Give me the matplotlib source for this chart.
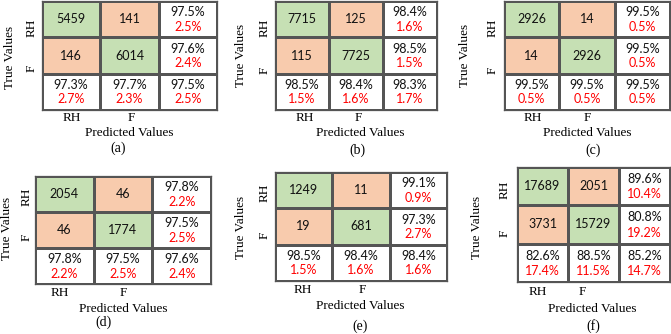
import matplotlib.pyplot as plt
import numpy as np
from matplotlib.colors import ListedColormap

# confusion counts per panel, and the accuracy / error text
# order of acc/err: row RH, row F, col RH, col F, overall
counts_a = [[5459, 141], [146, 6014]]
acc_a = [97.5, 97.6, 97.3, 97.7, 97.5]
err_a = [2.5, 2.4, 2.7, 2.3, 2.5]

counts_b = [[7715, 125], [115, 7725]]
acc_b = [98.4, 98.5, 98.5, 98.4, 98.3]
err_b = [1.6, 1.5, 1.5, 1.6, 1.7]

counts_c = [[2926, 14], [14, 2926]]
acc_c = [99.5, 99.5, 99.5, 99.5, 99.5]
err_c = [0.5, 0.5, 0.5, 0.5, 0.5]

counts_d = [[2054, 46], [46, 1774]]
acc_d = [97.8, 97.5, 97.8, 97.5, 97.6]
err_d = [2.2, 2.5, 2.2, 2.5, 2.4]

counts_e = [[1249, 11], [19, 681]]
acc_e = [99.1, 97.3, 98.5, 98.4, 98.4]
err_e = [0.9, 2.7, 1.5, 1.6, 1.6]

counts_f = [[17689, 2051], [3731, 15729]]
acc_f = [89.6, 80.8, 82.6, 88.5, 85.2]
err_f = [10.4, 19.2, 17.4, 11.5, 14.7]

class_labels = ["RH", "F"]
panel_tags = ["(a)", "(b)", "(c)", "(d)", "(e)", "(f)"]

W, H = 671, 334
GREEN = "#c6e0b4"
ORANGE = "#f8cbad"
LINE = "#555555"
SERIF = "Liberation Serif"
SANS = "Lato"

# layout in pixels: grid box (left, top, right, bottom) and label anchors
layouts = [
    dict(grid=(42, 1, 217, 110), tv=(10, 57), yl=(32, 28, 68), xl=(72, 131, 118), pv=(129, 133), tag=(118, 148)),
    dict(grid=(275, 1, 437, 110), tv=(241, 55), yl=(265, 28, 70), xl=(305, 358, 118), pv=(360, 133), tag=(357, 150)),
    dict(grid=(504, 1, 670, 110), tv=(465, 55), yl=(493, 28, 70), xl=(533, 587, 118), pv=(587, 133), tag=(593, 150)),
    dict(grid=(35, 176, 211, 284), tv=(7, 228), yl=(27, 197, 237), xl=(60, 123, 293), pv=(123, 309), tag=(103, 322)),
    dict(grid=(275, 172, 447, 281), tv=(241, 227), yl=(265, 193, 235), xl=(303, 362, 290), pv=(360, 306), tag=(360, 326)),
    dict(grid=(517, 167, 670, 282), tv=(477, 227), yl=(505, 190, 233), xl=(538, 582, 292), pv=(592, 309), tag=(593, 326)),
]


def fx(x):
    return x / W


def fy(y):
    return 1 - y / H


def draw_panel(fig, counts, acc, err, lay, tag):
    l, t, r, b = lay["grid"]
    ax = fig.add_axes([fx(l), fy(b), (r - l) / W, (b - t) / H])
    kind = np.array([[1, 2, 0], [2, 1, 0], [0, 0, 0]])
    cmap = ListedColormap(["white", GREEN, ORANGE])
    ax.pcolormesh(np.arange(4), np.arange(4), kind, cmap=cmap, vmin=0, vmax=2,
                  edgecolors=LINE, linewidth=0.8)
    ax.set_xlim(0, 3)
    ax.set_ylim(3, 0)
    ax.set_xticks([])
    ax.set_yticks([])
    for s in ax.spines.values():
        s.set_color(LINE)
        s.set_linewidth(0.9)

    for i in range(2):
        for j in range(2):
            ax.text(j + 0.5, i + 0.5, str(counts[i][j]), ha="center", va="center",
                    fontsize=9, family=SANS, color="#111111")
    cells = [(2, 0), (2, 1), (0, 2), (1, 2), (2, 2)]
    for (cx, cy), a, e in zip(cells, acc, err):
        ax.text(cx + 0.5, cy + 0.31, f"{a:.1f}%", ha="center", va="center",
                fontsize=9, family=SANS, color="#111111")
        ax.text(cx + 0.5, cy + 0.71, f"{e:.1f}%", ha="center", va="center",
                fontsize=9, family=SANS, color="#ff0000")

    fig.text(fx(lay["tv"][0]), fy(lay["tv"][1]), "True Values", rotation=90,
             ha="center", va="center", fontsize=9.5, family=SERIF)
    yx, y1, y2 = lay["yl"]
    for lab, yy in zip(class_labels, (y1, y2)):
        fig.text(fx(yx), fy(yy), lab, rotation=90, ha="center", va="center",
                 fontsize=9.5, family=SERIF)
    x1, x2, xy = lay["xl"]
    for lab, xx in zip(class_labels, (x1, x2)):
        fig.text(fx(xx), fy(xy), lab, ha="center", va="center",
                 fontsize=9.5, family=SERIF)
    fig.text(fx(lay["pv"][0]), fy(lay["pv"][1]), "Predicted Values",
             ha="center", va="center", fontsize=9.5, family=SERIF)
    fig.text(fx(lay["tag"][0]), fy(lay["tag"][1]), tag,
             ha="center", va="center", fontsize=10, family=SERIF)


fig = plt.figure(figsize=(W / 100, H / 100), dpi=100)
panels = [
    (counts_a, acc_a, err_a),
    (counts_b, acc_b, err_b),
    (counts_c, acc_c, err_c),
    (counts_d, acc_d, err_d),
    (counts_e, acc_e, err_e),
    (counts_f, acc_f, err_f),
]
for (counts, acc, err), lay, tag in zip(panels, layouts, panel_tags):
    draw_panel(fig, counts, acc, err, lay, tag)

fig.savefig("out.png", dpi=100)
